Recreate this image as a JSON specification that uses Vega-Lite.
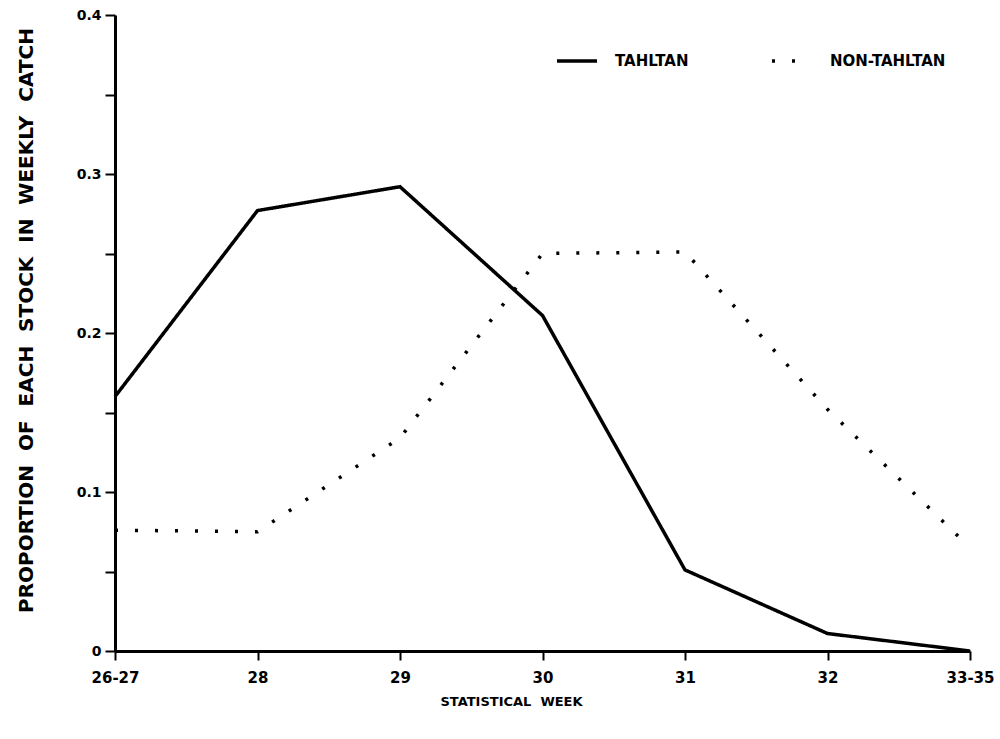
{
  "$schema": "https://vega.github.io/schema/vega-lite/v6.json",
  "autosize": "none",
  "width": 855,
  "height": 636,
  "padding": {"left": 115, "top": 15, "right": 30, "bottom": 88},
  "background": "white",
  "config": {"view": {"stroke": null}, "font": "DejaVu Sans"},
  "data": {"values": [
    {"week": "26-27", "stock": "TAHLTAN", "value": 0.160},
    {"week": "28", "stock": "TAHLTAN", "value": 0.277},
    {"week": "29", "stock": "TAHLTAN", "value": 0.292},
    {"week": "30", "stock": "TAHLTAN", "value": 0.211},
    {"week": "31", "stock": "TAHLTAN", "value": 0.051},
    {"week": "32", "stock": "TAHLTAN", "value": 0.011},
    {"week": "33-35", "stock": "TAHLTAN", "value": 0.0},
    {"week": "26-27", "stock": "NON-TAHLTAN", "value": 0.076},
    {"week": "28", "stock": "NON-TAHLTAN", "value": 0.075},
    {"week": "29", "stock": "NON-TAHLTAN", "value": 0.134},
    {"week": "30", "stock": "NON-TAHLTAN", "value": 0.250},
    {"week": "31", "stock": "NON-TAHLTAN", "value": 0.251},
    {"week": "32", "stock": "NON-TAHLTAN", "value": 0.152},
    {"week": "33-35", "stock": "NON-TAHLTAN", "value": 0.065}
  ]},
  "mark": {"type": "line", "color": "black", "strokeWidth": 3.5, "clip": false},
  "encoding": {
    "x": {
      "field": "week", "type": "ordinal",
      "sort": ["26-27", "28", "29", "30", "31", "32", "33-35"],
      "scale": {"type": "point", "padding": 0},
      "axis": {
        "title": "STATISTICAL\u00a0\u00a0WEEK",
        "titleFontSize": 13, "titleFontWeight": "bold", "titleColor": "black",
        "titleX": 396, "titleY": 44,
        "labelAngle": 0, "labelFontSize": 15, "labelFontWeight": "bold", "labelColor": "black",
        "labelPadding": 10,
        "domainColor": "black", "domainWidth": 3,
        "tickColor": "black", "tickWidth": 2, "tickSize": 9,
        "grid": false
      }
    },
    "y": {
      "field": "value", "type": "quantitative",
      "scale": {"domain": [0, 0.4], "nice": false},
      "axis": {
        "title": "PROPORTION\u00a0\u00a0OF\u00a0\u00a0EACH\u00a0\u00a0STOCK\u00a0\u00a0IN\u00a0\u00a0WEEKLY\u00a0\u00a0CATCH",
        "titleFontSize": 20, "titleFontWeight": "bold", "titleColor": "black",
        "titleX": -79, "titleY": 305,
        "values": [0, 0.05, 0.1, 0.15, 0.2, 0.25, 0.3, 0.35, 0.4],
        "labelExpr": "round(datum.value*100) % 10 == 0 ? (datum.value == 0 ? '0' : format(datum.value, '.1f')) : ''",
        "labelFontSize": 14, "labelFontWeight": "bold", "labelColor": "black",
        "labelPadding": 4,
        "domainColor": "black", "domainWidth": 3,
        "tickColor": "black", "tickWidth": 2, "tickSize": 10,
        "grid": false
      }
    },
    "strokeDash": {
      "field": "stock", "type": "nominal",
      "scale": {"domain": ["TAHLTAN", "NON-TAHLTAN"], "range": [[1, 0], [3, 17]]},
      "legend": {
        "title": null,
        "orient": "none", "legendX": 440, "legendY": 24,
        "direction": "horizontal",
        "symbolType": "stroke", "symbolSize": 1600,
        "symbolStrokeColor": "black", "symbolStrokeWidth": 3.5,
        "labelFontSize": 15, "labelFontWeight": "bold", "labelColor": "black",
        "labelOffset": 16, "columnPadding": 76
      }
    }
  }
}
